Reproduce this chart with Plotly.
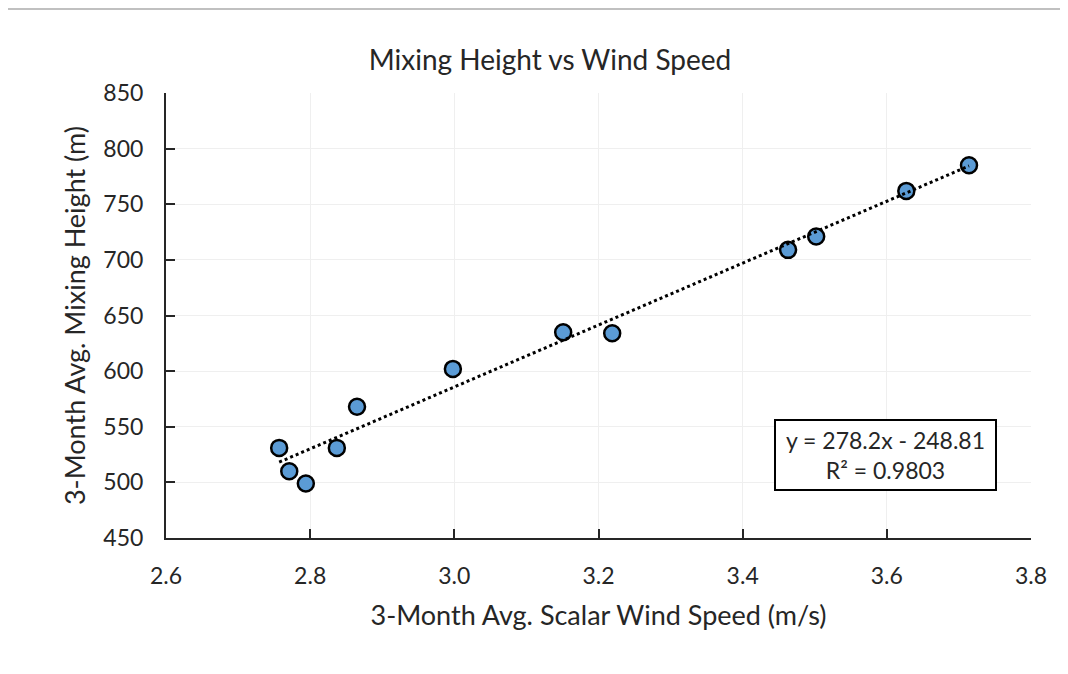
import numpy as np
import plotly.graph_objects as go

# Data
wind_speed = [2.757, 2.771, 2.794, 2.837, 2.865, 2.998, 3.151, 3.219, 3.463, 3.502, 3.627, 3.714]
mixing_height = [531, 510, 499, 531, 568, 602, 635, 634, 709, 721, 762, 785]
trend_slope = 278.2
trend_intercept = -248.81
r_squared = 0.9803
x_ticks = [2.6, 2.8, 3.0, 3.2, 3.4, 3.6, 3.8]
y_ticks = [450, 500, 550, 600, 650, 700, 750, 800, 850]

FONT = "Lato"
TXT = "#262626"

fig = go.Figure()
fig.add_trace(go.Scatter(
    x=wind_speed, y=mixing_height, mode="markers",
    marker=dict(size=16, color="#5B9BD5", line=dict(color="black", width=2.5)),
    showlegend=False, hoverinfo="x+y"))

tx = np.array([min(wind_speed), max(wind_speed)])
fig.add_trace(go.Scatter(
    x=tx, y=trend_slope * tx + trend_intercept, mode="lines",
    line=dict(color="black", width=3, dash="dot"),
    showlegend=False, hoverinfo="skip"))

fig.add_annotation(
    xref="paper", yref="paper", x=0.832, y=0.1876, xanchor="center", yanchor="middle",
    text=f"y = {trend_slope}x - {abs(trend_intercept)}<br>R² = {r_squared}",
    showarrow=False, align="center",
    font=dict(family=FONT, size=23, color=TXT),
    bordercolor="black", borderwidth=2, bgcolor="white", borderpad=5, width=209)

fig.add_shape(type="line", xref="paper", yref="paper",
              x0=-0.183, x1=1.06, y0=1.1888, y1=1.1888,
              line=dict(color="#c0c0c0", width=2))

fig.update_layout(
    width=1068, height=674,
    margin=dict(l=158, r=45, t=85, b=144),
    paper_bgcolor="white", plot_bgcolor="white",
    title=dict(text="Mixing Height vs Wind Speed", x=0.5075, xanchor="center", y=0.923, yanchor="middle",
               font=dict(family=FONT, size=28, color=TXT)),
    font=dict(family=FONT, color=TXT),
    xaxis=dict(range=[2.6, 3.8], tickvals=x_ticks, ticktext=[f"{v:.1f}" for v in x_ticks],
               showgrid=True, gridcolor="#efefef", gridwidth=1,
               showline=True, linecolor="#262626", linewidth=2,
               ticks="inside", ticklen=9, tickwidth=2, tickcolor="#262626",
               ticklabelstandoff=16, zeroline=False,
               tickfont=dict(family=FONT, size=23, color=TXT),
               title=dict(text="3-Month Avg. Scalar Wind Speed (m/s)", standoff=19,
                          font=dict(family=FONT, size=27, color=TXT))),
    yaxis=dict(range=[450, 850], tickvals=y_ticks,
               showgrid=True, gridcolor="#efefef", gridwidth=1,
               showline=True, linecolor="#262626", linewidth=2,
               ticks="inside", ticklen=9, tickwidth=2, tickcolor="#262626",
               ticklabelstandoff=16, zeroline=False,
               tickfont=dict(family=FONT, size=23, color=TXT),
               title=dict(text="3-Month Avg. Mixing Height (m)", standoff=10,
                          font=dict(family=FONT, size=27, color=TXT))),
)

fig.write_html("out.html")
